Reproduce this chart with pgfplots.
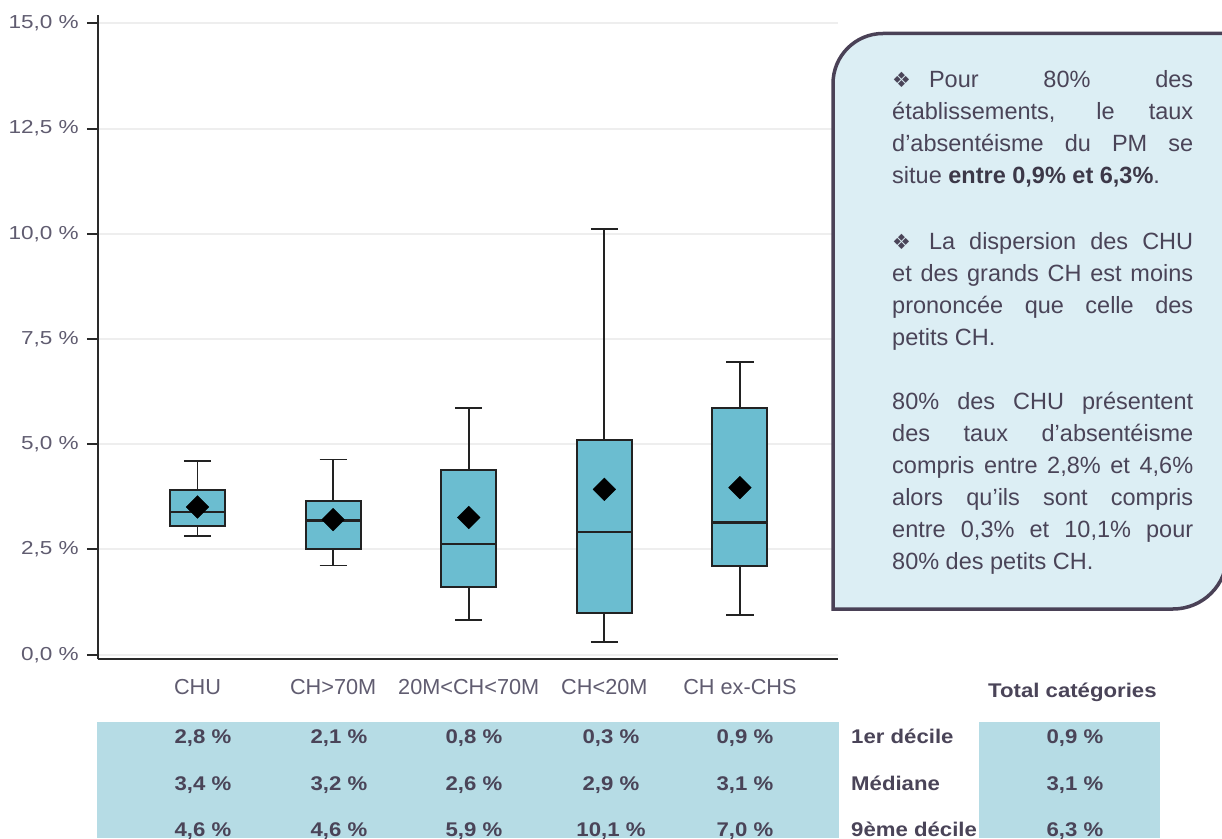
\documentclass[border=0pt]{standalone}
\usepackage{fontspec}
\setmainfont{Liberation Sans}
\newfontfamily\tickfamily[FakeStretch=1.2]{Liberation Sans}
\newfontfamily\tabfamily[FakeStretch=1.12]{Liberation Sans}
\newfontfamily\symfamily{DejaVu Sans}
\usepackage{pgfplots}
\pgfplotsset{compat=1.18}
\usepgfplotslibrary{statistics}
\definecolor{boxblue}{HTML}{6BBDD0}
\definecolor{edgecol}{HTML}{222222}
\definecolor{band}{HTML}{B6DCE5}
\definecolor{panelfill}{HTML}{DCEEF4}
\definecolor{framecol}{HTML}{4A4156}
\definecolor{txtcol}{HTML}{4A4458}
\definecolor{boldcol}{HTML}{3C3848}
\definecolor{tickcol}{HTML}{605C70}
\definecolor{tabcol}{HTML}{4A4458}
\definecolor{gridcol}{HTML}{EEEEEE}
\definecolor{axiscol}{HTML}{2A2A2A}
\newcommand\sym{{\symfamily\fontsize{21}{32}\selectfont\raisebox{0.5pt}{❖}}\hspace*{18pt}}
\begin{document}
\begin{tikzpicture}[x=1pt,y=1pt]
\useasboundingbox (0,0) rectangle (1222,838);
\clip (0,0) rectangle (1222,838);
% table bands
\fill[band] (97,0) rectangle (839,116);
\fill[band] (979,0) rectangle (1160,116);
\begin{axis}[
  at={(98pt,178.7pt)}, anchor=south west,
  width=740pt, height=644.3pt, scale only axis,
  xmin=-0.734, xmax=4.723, ymin=-0.109, ymax=15.2,
  axis x line*=bottom, axis y line*=left,
  axis line style={line width=2pt, color=axiscol},
  ytick={0,2.5,5,7.5,10,12.5,15},
  yticklabels={{0,0 \%},{2,5 \%},{5,0 \%},{7,5 \%},{10,0 \%},{12,5 \%},{15,0 \%}},
  xtick={0,1,2,3,4},
  xticklabels={CHU, CH>70M, 20M<CH<70M, CH<20M, CH ex-CHS},
  ymajorgrids, grid style={color=gridcol, line width=2pt},
  tick align=outside, major tick length=11pt,
  tick style={line width=2pt, color=axiscol},
  xtick style={draw=none},
  yticklabel style={font=\tickfamily\fontsize{18.8}{22}\selectfont, text=tickcol, anchor=east, inner sep=0pt, xshift=-8pt},
  xticklabel style={font=\fontsize{21.7}{26}\selectfont, text=tickcol, anchor=base, inner sep=0pt, yshift=-24pt},
  boxplot/draw direction=y,
  boxplot/every median/.style={line width=2.2pt, draw=edgecol},
  boxplot/every box/.style={line width=2pt, draw=edgecol, fill=boxblue},
  boxplot/every whisker/.style={line width=1.8pt, draw=edgecol},
  clip=false,
]
\addplot[boxplot prepared={draw position=0, lower whisker=2.82, lower quartile=3.07, median=3.40, upper quartile=3.91, upper whisker=4.60, box extend=0.406, whisker extend=0.2}, draw=edgecol, fill=boxblue, line width=1.8pt] coordinates {};
\addplot[boxplot prepared={draw position=1, lower whisker=2.12, lower quartile=2.50, median=3.19, upper quartile=3.66, upper whisker=4.64, box extend=0.406, whisker extend=0.2}, draw=edgecol, fill=boxblue, line width=1.8pt] coordinates {};
\addplot[boxplot prepared={draw position=2, lower whisker=0.83, lower quartile=1.61, median=2.64, upper quartile=4.38, upper whisker=5.87, box extend=0.406, whisker extend=0.2}, draw=edgecol, fill=boxblue, line width=1.8pt] coordinates {};
\addplot[boxplot prepared={draw position=3, lower whisker=0.31, lower quartile=0.98, median=2.91, upper quartile=5.11, upper whisker=10.11, box extend=0.406, whisker extend=0.2}, draw=edgecol, fill=boxblue, line width=1.8pt] coordinates {};
\addplot[boxplot prepared={draw position=4, lower whisker=0.94, lower quartile=2.10, median=3.14, upper quartile=5.87, upper whisker=6.96, box extend=0.406, whisker extend=0.2}, draw=edgecol, fill=boxblue, line width=1.8pt] coordinates {};
\addplot[only marks, mark=square*, mark size=8pt, mark options={rotate=45, fill=black, draw=black}] coordinates {(0,3.51) (1,3.21) (2,3.26) (3,3.93) (4,3.97)};
\end{axis}
% text panel
\draw[line width=3.5pt, draw=framecol, fill=panelfill] (833,229) -- (833,754.5) arc[start angle=180, end angle=90, radius=50] -- (1227,804.5) -- (1227,283) arc[start angle=0, end angle=-90, radius=54] -- cycle;
\node[anchor=base west, inner sep=0pt, text width=301pt, align=justify, text=txtcol, font=\fontsize{23.5}{32}\selectfont] at (892,750) {%
\sym Pour 80\% des\linebreak établissements, le taux\linebreak d’absentéisme du PM se\linebreak situe {\bfseries\color{boldcol}entre 0,9\% et 6,3\%}.\par\vskip 34pt
\sym La dispersion des CHU\linebreak et des grands CH est moins\linebreak prononcée que celle des\linebreak petits CH.\par\vskip 32pt
80\% des CHU présentent\linebreak des taux d’absentéisme\linebreak compris entre 2,8\% et 4,6\%\linebreak alors qu’ils sont compris\linebreak entre 0,3\% et 10,1\% pour\linebreak 80\% des petits CH.};
% table
\begin{scope}[font=\tabfamily\bfseries\fontsize{19.8}{24}\selectfont, text=tabcol]
\node[anchor=base west, inner sep=0pt] at (988,141) {Total catégories};
\node[anchor=base west, inner sep=0pt] at (851,95) {1er décile};
\node[anchor=base west, inner sep=0pt] at (851,48) {Médiane};
\node[anchor=base west, inner sep=0pt] at (851,2) {9ème décile};
\node[anchor=base, inner sep=0pt] at (203,95) {2,8 \%};
\node[anchor=base, inner sep=0pt] at (339,95) {2,1 \%};
\node[anchor=base, inner sep=0pt] at (474,95) {0,8 \%};
\node[anchor=base, inner sep=0pt] at (611,95) {0,3 \%};
\node[anchor=base, inner sep=0pt] at (745,95) {0,9 \%};
\node[anchor=base, inner sep=0pt] at (1075,95) {0,9 \%};
\node[anchor=base, inner sep=0pt] at (203,48) {3,4 \%};
\node[anchor=base, inner sep=0pt] at (339,48) {3,2 \%};
\node[anchor=base, inner sep=0pt] at (474,48) {2,6 \%};
\node[anchor=base, inner sep=0pt] at (611,48) {2,9 \%};
\node[anchor=base, inner sep=0pt] at (745,48) {3,1 \%};
\node[anchor=base, inner sep=0pt] at (1075,48) {3,1 \%};
\node[anchor=base, inner sep=0pt] at (203,2) {4,6 \%};
\node[anchor=base, inner sep=0pt] at (339,2) {4,6 \%};
\node[anchor=base, inner sep=0pt] at (474,2) {5,9 \%};
\node[anchor=base, inner sep=0pt] at (611,2) {10,1 \%};
\node[anchor=base, inner sep=0pt] at (745,2) {7,0 \%};
\node[anchor=base, inner sep=0pt] at (1075,2) {6,3 \%};
\end{scope}
\end{tikzpicture}
\end{document}
